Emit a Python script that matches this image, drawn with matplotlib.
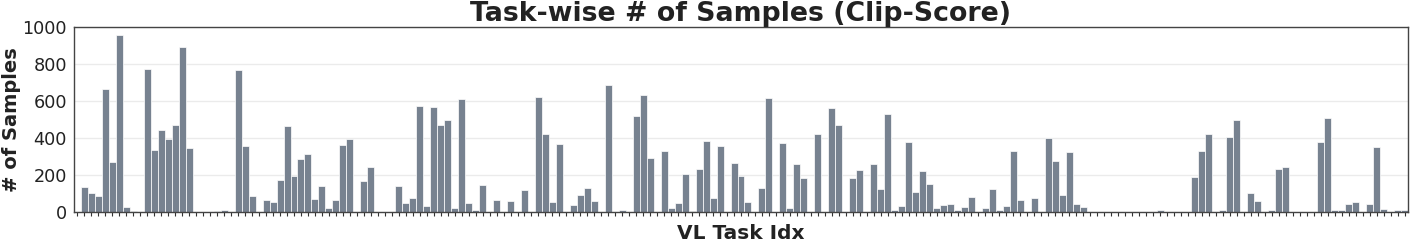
import numpy as np
import matplotlib
matplotlib.use("Agg")
import matplotlib.pyplot as plt

# samples per VL task
task_counts = [
    0, 132, 99, 85, 665, 268, 958, 27, 4, 0,
    774, 333, 443, 392, 470, 893, 344, 0, 0, 0,
    3, 9, 0, 769, 356, 83, 0, 63, 51, 172,
    463, 193, 284, 313, 67, 137, 18, 61, 360, 392,
    0, 165, 240, 0, 0, 0, 139, 49, 72, 573,
    31, 566, 470, 499, 22, 613, 49, 9, 143, 0,
    61, 0, 60, 0, 119, 0, 620, 421, 52, 367,
    0, 34, 90, 127, 56, 0, 685, 0, 7, 0,
    517, 631, 289, 0, 327, 20, 49, 206, 3, 233,
    383, 76, 356, 0, 264, 195, 52, 0, 130, 615,
    0, 371, 20, 257, 181, 0, 420, 0, 564, 470,
    0, 183, 224, 0, 257, 121, 528, 9, 31, 378,
    107, 222, 150, 18, 34, 42, 9, 27, 78, 0,
    20, 123, 7, 29, 329, 61, 0, 72, 0, 401,
    273, 89, 324, 43, 24, 0, 0, 0, 0, 0,
    0, 0, 0, 0, 0, 8, 0, 0, 0, 0,
    190, 329, 423, 0, 9, 405, 499, 0, 103, 56,
    0, 7, 233, 244, 0, 0, 0, 0, 380, 506,
    11, 11, 40, 51, 0, 43, 351, 13, 0, 7,
    9,
]
task_idx = np.arange(len(task_counts))
y_ticks = [0, 200, 400, 600, 800, 1000]

fig = plt.figure(figsize=(14.11, 2.42), dpi=100)
ax = fig.add_axes([74 / 1411, 1 - 211.7 / 242, (1408 - 74) / 1411, (211.7 - 27.3) / 242])

ax.bar(task_idx, task_counts, width=1.0, color="#778290",
       edgecolor="white", linewidth=0.5, zorder=2)

ax.set_xlim(-0.5, len(task_counts) - 0.5)
ax.set_ylim(0, 1000)
ax.set_yticks(y_ticks)
ax.set_xticks(task_idx)
ax.set_xticklabels([])
ax.grid(axis="y", color="#ebebeb", linewidth=1.0, zorder=0)
ax.set_axisbelow(True)

ax.tick_params(axis="y", length=0, labelsize=12.7, pad=5, colors="#222222")
ax.tick_params(axis="x", length=3, width=0.8, color="#333333")
for s in ax.spines.values():
    s.set_color("#444444")
    s.set_linewidth(1.0)

ax.set_title("Task-wise # of Samples (Clip-Score)", fontsize=19.3, fontweight="bold",
             color="#222222", pad=3)
ax.set_xlabel("VL Task Idx", fontsize=14.5, fontweight="bold", color="#222222", labelpad=2)
ax.set_ylabel("# of Samples", fontsize=14, fontweight="bold", color="#222222", labelpad=1)

fig.savefig("out.png", dpi=100)
